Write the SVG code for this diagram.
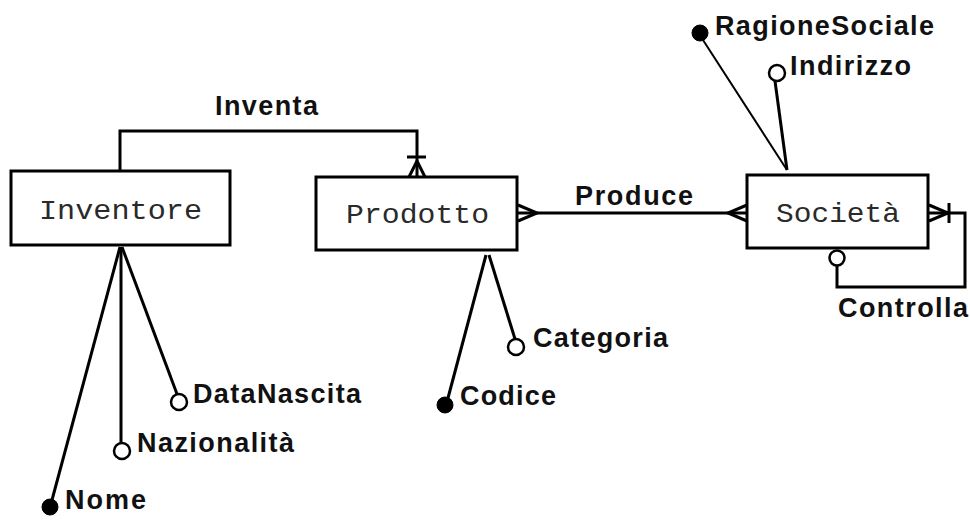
<svg xmlns="http://www.w3.org/2000/svg" width="970" height="522" viewBox="0 0 970 522">
  <style>
    .entity rect { fill: #ffffff; stroke: #000000; stroke-width: 3; }
    .entity text { font-family: "Liberation Mono", "Courier New", monospace; font-size: 28px; fill: #2a2a2a; }
    .label { font-family: "Liberation Sans", Arial, sans-serif; font-weight: bold; font-size: 27px; fill: #111111; }
    .link { fill: none; stroke: #000000; stroke-width: 3; stroke-linejoin: miter; }
    .attr-line { fill: none; stroke: #000000; stroke-width: 3; }
    .thin { stroke-width: 2; }
    .opt { fill: #ffffff; stroke: #000000; stroke-width: 2.5; }
    .key { fill: #000000; stroke: #000000; stroke-width: 1; }
  </style>
  <rect width="970" height="522" fill="#ffffff"/>

  <!-- relationships -->
  <g id="connectors">
    <!-- Inventa: Inventore -> Prodotto (one-or-many at Prodotto) -->
    <path class="link" d="M120 171 V131 H417 V177"/>
    <path class="link" d="M407 157 H426 M417 161 L409 177 M417 161 L425 177" stroke-width="2.5"/>

    <!-- Produce: Prodotto many - many Società -->
    <path class="link" d="M517 213 H747"/>
    <path class="link" d="M518 205 L537 213 L518 221" stroke-width="2.5"/>
    <path class="link" d="M747 205 L728 213 L747 221" stroke-width="2.5"/>

    <!-- Controlla: recursive on Società -->
    <path class="link" d="M928 213 H965 V287 H837 V266"/>
    <path class="link" d="M929 205 L948 213 L929 221 M949 203 V223" stroke-width="2.5"/>
    <circle class="opt" cx="837" cy="258" r="7.5"/>

    <!-- attribute links of Inventore -->
    <path class="attr-line" d="M120 247 L52 500"/>
    <path class="attr-line" d="M121 247 V443"/>
    <path class="attr-line" d="M122 247 L177 394"/>
    <!-- attribute links of Prodotto -->
    <path class="attr-line" d="M486 255 L448 398"/>
    <path class="attr-line" d="M489 255 L515 339"/>
    <!-- attribute links of Società -->
    <path class="attr-line thin" d="M703 40 L787 170"/>
    <path class="attr-line" d="M775 81 L787 170"/>
  </g>

  <!-- entities -->
  <g id="inventore" class="entity">
    <rect x="11" y="171" width="219" height="74"/>
    <text x="39" y="219" textLength="163" lengthAdjust="spacingAndGlyphs">Inventore</text>
  </g>
  <g id="prodotto" class="entity">
    <rect x="316" y="177" width="201" height="73"/>
    <text x="346" y="223" textLength="143" lengthAdjust="spacingAndGlyphs">Prodotto</text>
  </g>
  <g id="societa" class="entity">
    <rect x="747" y="175" width="181" height="73"/>
    <text x="776" y="222" textLength="124" lengthAdjust="spacingAndGlyphs">Società</text>
  </g>

  <!-- relationship labels -->
  <g id="rel-inventa"><text class="label" x="215" y="115" textLength="103" lengthAdjust="spacing">Inventa</text></g>
  <g id="rel-produce"><text class="label" x="575" y="205" textLength="118" lengthAdjust="spacing">Produce</text></g>
  <g id="rel-controlla"><text class="label" x="838" y="317" textLength="130" lengthAdjust="spacing">Controlla</text></g>

  <!-- attributes -->
  <g id="attr-nome">
    <circle class="key" cx="50" cy="507" r="8"/>
    <text class="label" x="65" y="509" textLength="81" lengthAdjust="spacing">Nome</text>
  </g>
  <g id="attr-nazionalita">
    <circle class="opt" cx="122" cy="451" r="8"/>
    <text class="label" x="137" y="452" textLength="157" lengthAdjust="spacing">Nazionalità</text>
  </g>
  <g id="attr-datanascita">
    <circle class="opt" cx="179" cy="402" r="8"/>
    <text class="label" x="193" y="403" textLength="168" lengthAdjust="spacing">DataNascita</text>
  </g>
  <g id="attr-codice">
    <circle class="key" cx="445" cy="405" r="8"/>
    <text class="label" x="460" y="405" textLength="96" lengthAdjust="spacing">Codice</text>
  </g>
  <g id="attr-categoria">
    <circle class="opt" cx="516" cy="347" r="8"/>
    <text class="label" x="533" y="347" textLength="135" lengthAdjust="spacing">Categoria</text>
  </g>
  <g id="attr-ragionesociale">
    <circle class="key" cx="700" cy="33" r="8"/>
    <text class="label" x="715" y="35" textLength="219" lengthAdjust="spacing">RagioneSociale</text>
  </g>
  <g id="attr-indirizzo">
    <circle class="opt" cx="777" cy="73" r="8"/>
    <text class="label" x="790" y="75" textLength="121" lengthAdjust="spacing">Indirizzo</text>
  </g>
</svg>
